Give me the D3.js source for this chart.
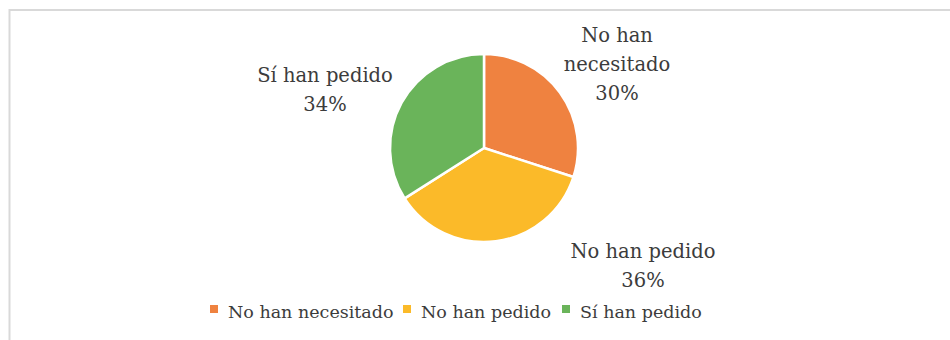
<!DOCTYPE html>
<html>
<head>
<meta charset="utf-8">
<script src="https://cdn.jsdelivr.net/npm/d3@7"></script>
<style>
  html, body { margin: 0; padding: 0; background: #fff; }
  svg { display: block; }
  svg text { font-family: "DejaVu Serif", serif; }
</style>
</head>
<body>
<svg id="chart" width="950" height="340"></svg>
<script>
// Survey answers and their shares (%)
const categories = ["No han necesitado", "No han pedido", "Sí han pedido"];
const values = [30, 36, 34];
const colors = ["#EF8240", "#FBBA29", "#6AB45A"];
// Label text lines per slice (the category name wrapped as drawn)
const labelLines = [["No han", "necesitado"], ["No han pedido"], ["Sí han pedido"]];

const svg = d3.select("#chart");
const W = 950, H = 340;
const textColor = "#3c3c3c";

// Chart frame
svg.append("rect")
  .attr("x", 9.5).attr("y", 10)
  .attr("width", W + 20).attr("height", H + 20)
  .attr("fill", "#fff")
  .attr("stroke", "#d9d9d9").attr("stroke-width", 2);

const cx = 484, cy = 148, r = 94;

const pie = d3.pie().sort(null).value(d => d)(values);
const arc = d3.arc().innerRadius(0).outerRadius(r);

const g = svg.append("g").attr("transform", `translate(${cx},${cy})`);
g.selectAll("path")
  .data(pie)
  .join("path")
  .attr("d", arc)
  .attr("fill", (d, i) => colors[i])
  .attr("stroke", "#fff")
  .attr("stroke-width", 2.5)
  .attr("stroke-linejoin", "round");

// Data labels placed outside each slice
const labelAnchors = [
  { x: 617, y: 42 },
  { x: 643, y: 258 },
  { x: 325, y: 82 }
];
const lineH = 29;
pie.forEach((d, i) => {
  const lines = labelLines[i].concat([d3.format(".0f")(d.data) + "%"]);
  const t = svg.append("text")
    .attr("text-anchor", "middle")
    .attr("font-size", 19.5)
    .attr("fill", textColor);
  lines.forEach((ln, k) => {
    t.append("tspan")
      .attr("x", labelAnchors[i].x)
      .attr("y", labelAnchors[i].y + k * lineH)
      .text(ln);
  });
});

// Legend
const legend = svg.append("g").attr("transform", "translate(210,318)");
const legendX = [0, 193, 352];
categories.forEach((c, i) => {
  const item = legend.append("g").attr("transform", `translate(${legendX[i]},0)`);
  item.append("rect")
    .attr("x", 0).attr("y", -13)
    .attr("width", 8).attr("height", 8)
    .attr("fill", colors[i]);
  item.append("text")
    .attr("x", 18).attr("y", 0)
    .attr("font-size", 17.5)
    .attr("fill", textColor)
    .text(c);
});
</script>
</body>
</html>
